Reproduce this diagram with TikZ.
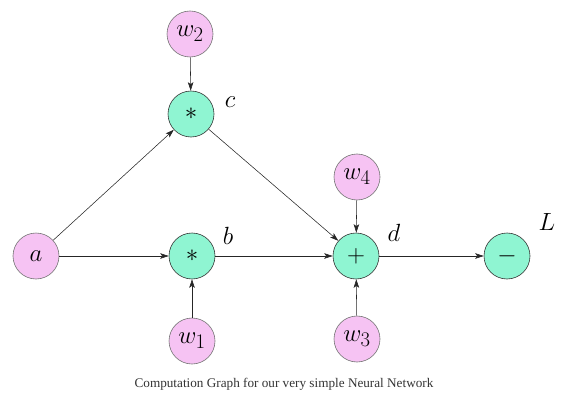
\documentclass[tikz,border=0pt]{standalone}
\usepackage{fontspec}
\newfontfamily\capfont{Liberation Serif}
\usetikzlibrary{arrows.meta}
\definecolor{pinkfill}{HTML}{F6C3F3}
\definecolor{greenfill}{HTML}{8FF5D2}
\tikzset{
  inputnode/.style={circle, draw=black!55, fill=pinkfill, minimum size=46pt, inner sep=0pt, font=\fontsize{29}{34}\selectfont, line width=0.6pt},
  opnode/.style={circle, draw=black!80, fill=greenfill, minimum size=46pt, inner sep=0pt, font=\fontsize{29}{34}\selectfont, line width=0.6pt},
  lbl/.style={font=\fontsize{30}{36}\selectfont, inner sep=0pt},
  conn/.style={draw=black!85, line width=0.55pt, -{Stealth[length=8.5pt,width=5.5pt,inset=2pt]}}
}
\begin{document}
\begin{tikzpicture}[x=1pt,y=-1pt]
\useasboundingbox (0,0) rectangle (580,406);
\node[inputnode] (a) at (36,256) {$a$};
\node[inputnode] (w2) at (190,34) {$w_2$};
\node[opnode] (c) at (191,114) {$*$};
\node[opnode] (b) at (192,256) {$*$};
\node[inputnode] (w1) at (192,341) {$w_1$};
\node[inputnode] (w4) at (357,177) {$w_4$};
\node[opnode] (d) at (356,256) {$+$};
\node[inputnode] (w3) at (357,339) {$w_3$};
\node[opnode] (L) at (507,256) {$-$};
\node[lbl] (cl) at (230,102) {$c$};
\node[lbl] (bl) at (228,236) {$b$};
\node[lbl] (dl) at (394,233) {$d$};
\node[lbl] (Ll) at (547,222) {$L$};
\node[font=\capfont\fontsize{13.2}{15}\selectfont, text=black!80, inner sep=0pt] (cap) at (284,384) {Computation Graph for our very simple Neural Network};
\draw[conn] (w2) -- (c);
\draw[conn] (a) -- (c);
\draw[conn] (a) -- (b);
\draw[conn] (w1) -- (b);
\draw[conn] (c) -- (d);
\draw[conn] (b) -- (d);
\draw[conn] (w4) -- (d);
\draw[conn] (w3) -- (d);
\draw[conn] (d) -- (L);
\end{tikzpicture}
\end{document}
